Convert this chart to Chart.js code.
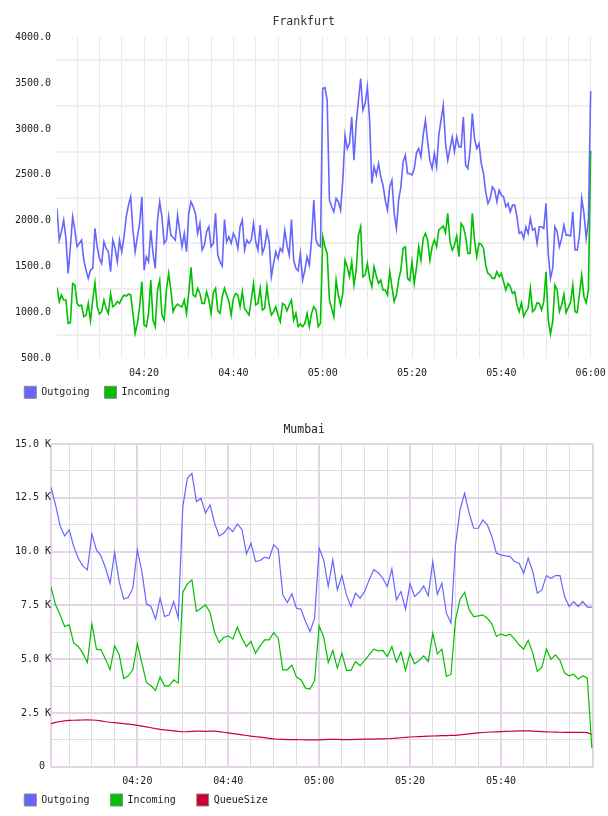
<!DOCTYPE html>
<html>
<head>
<meta charset="utf-8">
<title>Frankfurt / Mumbai</title>
<script src="https://cdn.jsdelivr.net/npm/chart.js@4.4.1/dist/chart.umd.min.js"></script>
<style>
  html, body { margin: 0; padding: 0; background: #fff; }
  #page { position: relative; width: 608px; height: 816px; overflow: hidden; }
  .box { position: absolute; left: 0; }
  canvas { display: block; }
</style>
</head>
<body>
<div id="page">
  <div class="box" style="top:0"><canvas id="frankfurtChart" width="626" height="410"></canvas></div>
  <div class="box" style="top:410px"><canvas id="mumbaiChart" width="608" height="406"></canvas></div>
</div>
<script>
// minutes after 04:00 of the first sample, and sample spacing in minutes
const frankfurtStart = 0.5;
const frankfurtStep = 0.5;

const frankfurtOutgoing = [
  2132, 1787, 1878, 2005, 1805, 1423, 1714, 2041, 1896, 1714,
  1751, 1787, 1569, 1460, 1369, 1460, 1478, 1914, 1714, 1587,
  1532, 1769, 1696, 1660, 1442, 1787, 1696, 1551, 1787, 1660,
  1823, 2041, 2168, 2259, 1896, 1660, 1823, 1969, 2259, 1460,
  1605, 1551, 1896, 1642, 1478, 2005, 2205, 2041, 1751, 1787,
  2041, 1841, 1816, 1787, 2059, 1878, 1714, 1860, 1660, 2078,
  2205, 2150, 2078, 1860, 1969, 1678, 1732, 1878, 1932, 1714,
  1751, 2078, 1623, 1551, 1503, 2012, 1769, 1823, 1751, 1860,
  1805, 1696, 1932, 2005, 1678, 1787, 1751, 1787, 1969, 1769,
  1678, 1950, 1642, 1714, 1878, 1769, 1387, 1532, 1660, 1587,
  1696, 1660, 1896, 1732, 1623, 2012, 1569, 1478, 1452, 1642,
  1351, 1460, 1605, 1514, 1787, 2223, 1787, 1732, 1714, 3440,
  3451, 3313, 2223, 2150, 2096, 2241, 2205, 2114, 2441, 2932,
  2786, 2841, 3131, 2659, 3059, 3313, 3549, 3204, 3277, 3458,
  3095, 2405, 2586, 2496, 2623, 2477, 2386, 2223, 2114, 2368,
  2441, 2078, 1914, 2223, 2368, 2641, 2714, 2514, 2514, 2496,
  2568, 2739, 2786, 2695, 2932, 3095, 2859, 2659, 2568, 2732,
  2586, 2932, 3095, 3259, 2841, 2659, 2786, 2913, 2750, 2913,
  2804, 2804, 3131, 2605, 2568, 2768, 3168, 2895, 2786, 2841,
  2623, 2514, 2314, 2187, 2241, 2368, 2332, 2205, 2332, 2277,
  2259, 2150, 2187, 2096, 2168, 2168, 2041, 1860, 1878, 1805,
  1932, 1860, 2023, 1896, 1914, 1751, 1932, 1932, 1914, 2187,
  1642, 1369, 1478, 1932, 1878, 1714, 1805, 1950, 1841, 1841,
  1830, 2096, 1678, 1678, 1841, 2241, 2078, 1805, 2005, 3415
];

const frankfurtIncoming = [
  1271, 1115, 1187, 1133, 1133, 878, 886, 1314, 1296, 1096,
  1067, 1078, 951, 969, 1096, 907, 1133, 1322, 1060, 980,
  1006, 1133, 1042, 987, 1205, 1060, 1078, 1115, 1096, 1151,
  1187, 1176, 1198, 1187, 987, 769, 878, 1060, 1333, 860,
  842, 987, 1351, 915, 842, 1242, 1351, 969, 915, 1242,
  1423, 1242, 1006, 1060, 1089, 1067, 1060, 1133, 987, 1205,
  1489, 1187, 1169, 1260, 1205, 1096, 1096, 1223, 1133, 987,
  1213, 1260, 1016, 987, 1169, 1260, 1187, 1115, 969, 1151,
  1205, 1187, 1060, 1223, 1042, 1006, 969, 1133, 1314, 1078,
  1096, 1260, 1024, 1042, 1285, 1078, 969, 1006, 1060, 969,
  896, 1096, 1078, 1016, 1078, 1133, 915, 987, 842, 871,
  842, 878, 987, 842, 987, 1060, 1024, 842, 878, 1823,
  1714, 1641, 1133, 1042, 951, 1351, 1187, 1078, 1205, 1569,
  1496, 1387, 1551, 1296, 1460, 1841, 1932, 1387, 1405, 1532,
  1369, 1278, 1496, 1394, 1314, 1351, 1242, 1242, 1187, 1442,
  1278, 1115, 1187, 1351, 1460, 1696, 1714, 1369, 1344, 1551,
  1314, 1489, 1714, 1569, 1805, 1860, 1787, 1569, 1714, 1787,
  1714, 1896, 1921, 1939, 1867, 2078, 1769, 1678, 1732, 1831,
  1605, 1969, 1932, 1823, 1641, 1641, 2078, 1787, 1605, 1751,
  1743, 1696, 1514, 1423, 1405, 1369, 1369, 1442, 1387, 1423,
  1333, 1242, 1314, 1278, 1205, 1224, 1078, 1006, 1104, 951,
  1006, 1042, 1260, 1006, 1031, 1104, 1096, 1024, 1115, 1442,
  915, 762, 897, 1296, 1242, 1006, 1078, 1194, 995, 1053,
  1107, 1296, 1006, 995, 1205, 1405, 1169, 1104, 1242, 2761
];

const mumbaiStart = 1;
const mumbaiStep = 1;

const mumbaiOutgoing = [
  12990, 12168, 11192, 10728, 11006, 10231, 9692, 9334, 9149, 10821,
  10077, 9799, 9226, 8530, 9953, 8607, 7787, 7880, 8298, 10077,
  9071, 7570, 7446, 6858, 7834, 6980, 7059, 7678, 6904, 12090,
  13405, 13638, 12322, 12477, 11780, 12168, 11316, 10728, 10851, 11130,
  10929, 11285, 11037, 9892, 10388, 9536, 9583, 9738, 9676, 10310,
  10108, 7988, 7632, 8034, 7368, 7322, 6748, 6284, 6904, 10155,
  9613, 8375, 9613, 8220, 8886, 7988, 7446, 8065, 7834, 8142,
  8684, 9149, 9025, 8761, 8375, 9195, 7755, 8142, 7322, 8499,
  7911, 8096, 8406, 7941, 9536, 8018, 8530, 7136, 6672, 10310,
  11935, 12710, 11780, 11083, 11083, 11470, 11238, 10697, 9924, 9845,
  9799, 9768, 9536, 9458, 8993, 9692, 9071, 8065, 8220, 8886,
  8761, 8886, 8886, 7911, 7446, 7678, 7446, 7678, 7415, 7415
];

const mumbaiIncoming = [
  8344, 7523, 7059, 6517, 6594, 5743, 5588, 5278, 4845, 6641,
  5464, 5433, 5000, 4505, 5619, 5201, 4102, 4226, 4505, 5712,
  4814, 3916, 3761, 3545, 4164, 3761, 3761, 4040, 3885, 8096,
  8499, 8684, 7214, 7368, 7523, 7167, 6238, 5774, 6006, 6083,
  5929, 6486, 5975, 5588, 5820, 5278, 5619, 5898, 5898, 6238,
  5975, 4505, 4505, 4722, 4164, 4040, 3653, 3607, 4009, 6548,
  6021, 4845, 5402, 4582, 5278, 4474, 4474, 4892, 4690, 4938,
  5201, 5464, 5387, 5402, 5124, 5588, 4861, 5325, 4474, 5278,
  4783, 4938, 5155, 4892, 6207, 5247, 5464, 4195, 4288, 6826,
  7787, 8096, 7300, 6981, 7012, 7059, 6904, 6641, 6053, 6176,
  6083, 6161, 5929, 5666, 5464, 5867, 5278, 4428, 4629, 5464,
  5000, 5201, 4938, 4350, 4226, 4304, 4071, 4226, 4118, 868
];

const mumbaiQueueSize = [
  1997, 2060, 2100, 2130, 2150, 2160, 2165, 2170, 2175, 2170,
  2160, 2130, 2090, 2065, 2045, 2025, 2000, 1980, 1955, 1920,
  1890, 1850, 1810, 1770, 1735, 1710, 1690, 1665, 1640, 1625,
  1630, 1640, 1650, 1650, 1645, 1650, 1650, 1630, 1600, 1570,
  1540, 1510, 1480, 1450, 1420, 1395, 1375, 1350, 1320, 1290,
  1275, 1268, 1262, 1256, 1254, 1252, 1250, 1250, 1248, 1250,
  1260, 1270, 1275, 1268, 1260, 1255, 1260, 1268, 1272, 1278,
  1282, 1285, 1290, 1295, 1300, 1312, 1327, 1345, 1365, 1380,
  1392, 1402, 1412, 1420, 1428, 1435, 1440, 1448, 1452, 1458,
  1478, 1505, 1530, 1552, 1572, 1590, 1602, 1612, 1622, 1632,
  1642, 1648, 1655, 1662, 1668, 1662, 1652, 1642, 1630, 1620,
  1612, 1606, 1602, 1600, 1600, 1598, 1596, 1594, 1585, 1495
];

const MONO = "'DejaVu Sans Mono', monospace";
Chart.defaults.font.family = MONO;
Chart.defaults.font.size = 10;
Chart.defaults.color = '#222';
Chart.defaults.animation = false;

function hhmm(min) {
  const h = 4 + Math.floor(min / 60);
  const m = Math.round(min % 60);
  return String(h).padStart(2, '0') + ':' + String(m).padStart(2, '0');
}

function toPoints(values, start, step) {
  return values.map((v, i) => ({ x: start + i * step, y: v }));
}

function range(from, to, step) {
  const out = [];
  for (let v = from; v <= to + 1e-9; v += step) out.push(v);
  return out;
}

// same width entries (longest name + one space), grey frame round the box
function legendItems(chart) {
  const items = Chart.defaults.plugins.legend.labels.generateLabels(chart);
  const width = Math.max(...items.map(it => it.text.length)) + 1;
  return items.map(it => Object.assign(it, {
    text: it.text.padEnd(width),
    fillStyle: chart.data.datasets[it.datasetIndex].borderColor,
    strokeStyle: '#888',
    lineWidth: 1
  }));
}

function line(label, values, start, step, color, width) {
  return {
    label: label,
    data: toPoints(values, start, step),
    borderColor: color,
    backgroundColor: color,
    borderWidth: width,
    pointRadius: 0,
    tension: 0
  };
}

const legendOpts = {
  position: 'bottom', align: 'start',
  labels: { boxWidth: 12, boxHeight: 12, padding: 9, generateLabels: legendItems }
};

// Frankfurt
new Chart(document.getElementById('frankfurtChart'), {
  type: 'line',
  data: {
    datasets: [
      line('Outgoing', frankfurtOutgoing, frankfurtStart, frankfurtStep, '#6666ff', 1.6),
      line('Incoming', frankfurtIncoming, frankfurtStart, frankfurtStep, '#00c000', 1.6)
    ]
  },
  options: {
    responsive: false,
    animation: false,
    layout: { padding: { left: 15.3, right: 34, top: 0, bottom: 1.7 } },
    plugins: {
      title: {
        display: true, text: 'Frankfurt', color: '#333',
        font: { size: 11.5, weight: 'normal' },
        padding: { top: 15, bottom: 8.5 }
      },
      legend: legendOpts,
      tooltip: { enabled: false }
    },
    scales: {
      x: {
        type: 'linear', min: frankfurtStart, max: 120.3,
        afterBuildTicks: s => { s.ticks = range(5, 120, 5).map(v => ({ value: v })); },
        afterFit: s => { s.height = 19.3; },
        grid: { color: '#e8e8e8', lineWidth: 1, drawTicks: false },
        border: { display: false },
        ticks: { padding: 9, autoSkip: false, maxRotation: 0, callback: v => v % 20 === 0 ? hhmm(v) : '' }
      },
      y: {
        min: 500, max: 4000,
        afterBuildTicks: s => { s.ticks = range(500, 4000, 250).map(v => ({ value: v })); },
        afterFit: s => { s.width = 41.7; },
        grid: {
          color: c => c.tick && c.tick.value % 500 === 250 ? '#efefef' : 'rgba(0,0,0,0)',
          lineWidth: 2, drawTicks: false
        },
        border: { display: false },
        ticks: { padding: 6, autoSkip: false, callback: v => v % 500 === 0 ? v.toFixed(1) : '' }
      }
    }
  }
});

// Mumbai
const mumbaiMin = mumbaiStart, mumbaiMax = 120.25;
const MAJOR = '#e6d3e8', MINOR = '#dedede';

new Chart(document.getElementById('mumbaiChart'), {
  type: 'line',
  data: {
    datasets: [
      line('Outgoing', mumbaiOutgoing, mumbaiStart, mumbaiStep, '#6666ff', 1.2),
      line('Incoming', mumbaiIncoming, mumbaiStart, mumbaiStep, '#00c000', 1.2),
      line('QueueSize', mumbaiQueueSize, mumbaiStart, mumbaiStep, '#cc0033', 1.2)
    ]
  },
  options: {
    responsive: false,
    animation: false,
    layout: { padding: { left: 15.3, right: 15, top: 0, bottom: 0 } },
    plugins: {
      title: {
        display: true, text: 'Mumbai', color: '#222',
        font: { size: 11.5, weight: 'normal' },
        padding: { top: 13, bottom: 7.2 }
      },
      legend: legendOpts,
      tooltip: { enabled: false }
    },
    scales: {
      x: {
        type: 'linear', min: mumbaiMin, max: mumbaiMax,
        afterBuildTicks: s => {
          s.ticks = [mumbaiMin].concat(range(5, 115, 5), [mumbaiMax]).map(v => ({ value: v }));
        },
        afterFit: s => { s.height = 18.3; },
        grid: {
          color: c => {
            const v = c.tick ? c.tick.value : 0;
            return (v === mumbaiMin || v === mumbaiMax || v % 20 === 0) ? MAJOR : MINOR;
          },
          lineWidth: c => {
            const v = c.tick ? c.tick.value : 0;
            return (v === mumbaiMin || v === mumbaiMax || v % 20 === 0) ? 2 : 1;
          },
          drawTicks: false
        },
        border: { display: false },
        ticks: {
          padding: 8.5, autoSkip: false, maxRotation: 0,
          callback: v => (v % 20 === 0 && v !== mumbaiMin && v !== mumbaiMax) ? hhmm(v) : ''
        }
      },
      y: {
        min: 0, max: 15000,
        afterBuildTicks: s => { s.ticks = range(0, 15000, 1250).map(v => ({ value: v })); },
        afterFit: s => { s.width = 35.7; },
        grid: {
          color: c => c.tick && c.tick.value % 2500 === 0 ? MAJOR : MINOR,
          lineWidth: c => c.tick && c.tick.value % 2500 === 0 ? 2 : 1,
          drawTicks: false
        },
        border: { display: false },
        ticks: {
          padding: 0, autoSkip: false,
          callback: v => v % 2500 !== 0 ? '' : (v === 0 ? '0 ' : (v / 1000).toFixed(1) + ' K')
        }
      }
    }
  }
});
</script>
</body>
</html>
